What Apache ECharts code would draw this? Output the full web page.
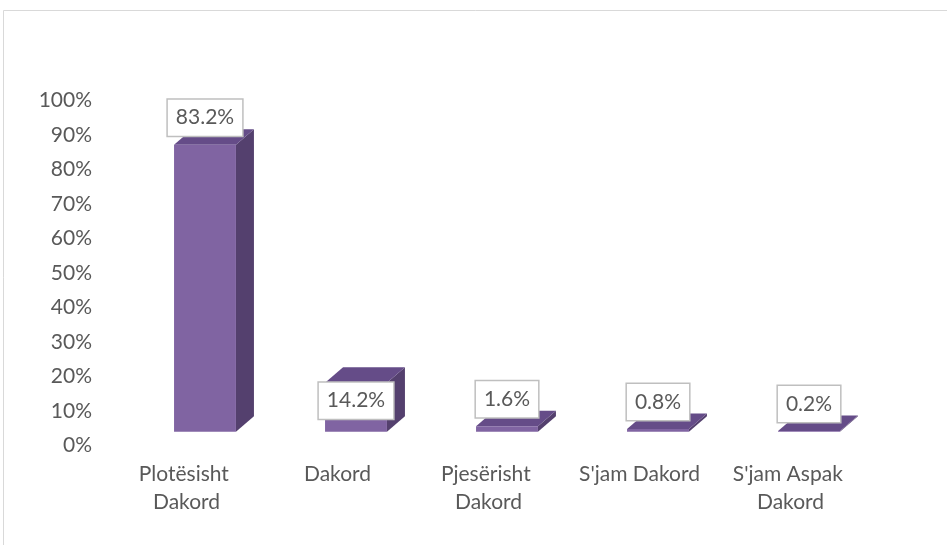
<!DOCTYPE html>
<html><head><meta charset="utf-8">
<script src="https://cdn.jsdelivr.net/npm/echarts@6/dist/echarts.min.js"></script>
<style>html,body{margin:0;padding:0;background:#fff}#c{width:947px;height:545px}</style>
</head><body><div id="c"></div>
<script>
const categories = ['Plotësisht Dakord', 'Dakord', 'Pjesërisht Dakord', "S'jam Dakord", "S'jam Aspak Dakord"];
const values = [83.2, 14.2, 1.6, 0.8, 0.2];
const yMin = 0, yMax = 100, yStep = 10;

// layout / style (not data)
const labelDy = [-27, 18, -27, -27, -27];
const frontColor = '#8064A2', sideColor = '#54406E', topColor = '#654C88';
const FONT = 'Lato';

const chart = echarts.init(document.getElementById('c'), null, {renderer: 'canvas'});
chart.setOption({
  animation: false,
  backgroundColor: '#fff',
  grid: {left: 111, right: 81, top: 100.7, bottom: 99.3, containLabel: false},
  xAxis: {
    type: 'category', data: categories,
    axisLine: {show: false}, axisTick: {show: false}, splitLine: {show: false},
    axisLabel: {interval: 0, color: '#595959', fontFamily: FONT, fontSize: 21, lineHeight: 28,
      margin: 15, width: 145, overflow: 'break'}
  },
  yAxis: {
    type: 'value', min: yMin, max: yMax, interval: yStep,
    axisLine: {show: false}, axisTick: {show: false}, splitLine: {show: false},
    axisLabel: {color: '#595959', fontFamily: FONT, fontSize: 21, margin: 19, formatter: '{value}%'}
  },
  graphic: [
    {type: 'line', shape: {x1: 3.5, y1: 10.5, x2: 947, y2: 10.5}, style: {stroke: '#D9D9D9', lineWidth: 1}},
    {type: 'line', shape: {x1: 3.5, y1: 10.5, x2: 3.5, y2: 545}, style: {stroke: '#D9D9D9', lineWidth: 1}}
  ],
  series: [{
    type: 'custom',
    data: values.map((v, i) => [i, v]),
    encode: {x: 0, y: 1},
    renderItem: function (params, api) {
      const i = params.dataIndex;
      const v = api.value(1);
      const base = api.coord([i, 0]);
      const top = api.coord([i, v]);
      const bw = api.size([1, 0])[0] * 0.41;
      const ox = 18.5, oy = -14, dx = 18, dy = -15.5;
      const xl = base[0] + ox - bw / 2, xr = base[0] + ox + bw / 2;
      const yb = base[1] + oy, yt = top[1] + oy;
      return {type: 'group', children: [
        {type: 'polygon', shape: {points: [[xr, yt], [xr + dx, yt + dy], [xr + dx, yb + dy], [xr, yb]]}, style: {fill: sideColor}},
        {type: 'polygon', shape: {points: [[xl, yt], [xl + dx, yt + dy], [xr + dx, yt + dy], [xr, yt]]}, style: {fill: topColor}},
        {type: 'rect', shape: {x: xl, y: yt, width: bw, height: yb - yt}, style: {fill: frontColor}},
        {type: 'text', x: (xl + xr) / 2, y: yt + labelDy[i], z2: 10,
          style: {text: v.toFixed(1) + '%', fill: '#595959', fontFamily: FONT, fontSize: 21, lineHeight: 24,
            align: 'center', verticalAlign: 'middle', backgroundColor: '#fff',
            borderColor: '#BFBFBF', borderWidth: 1.5, padding: [7, 8, 5, 8]}}
      ]};
    }
  }]
});
</script></body></html>
